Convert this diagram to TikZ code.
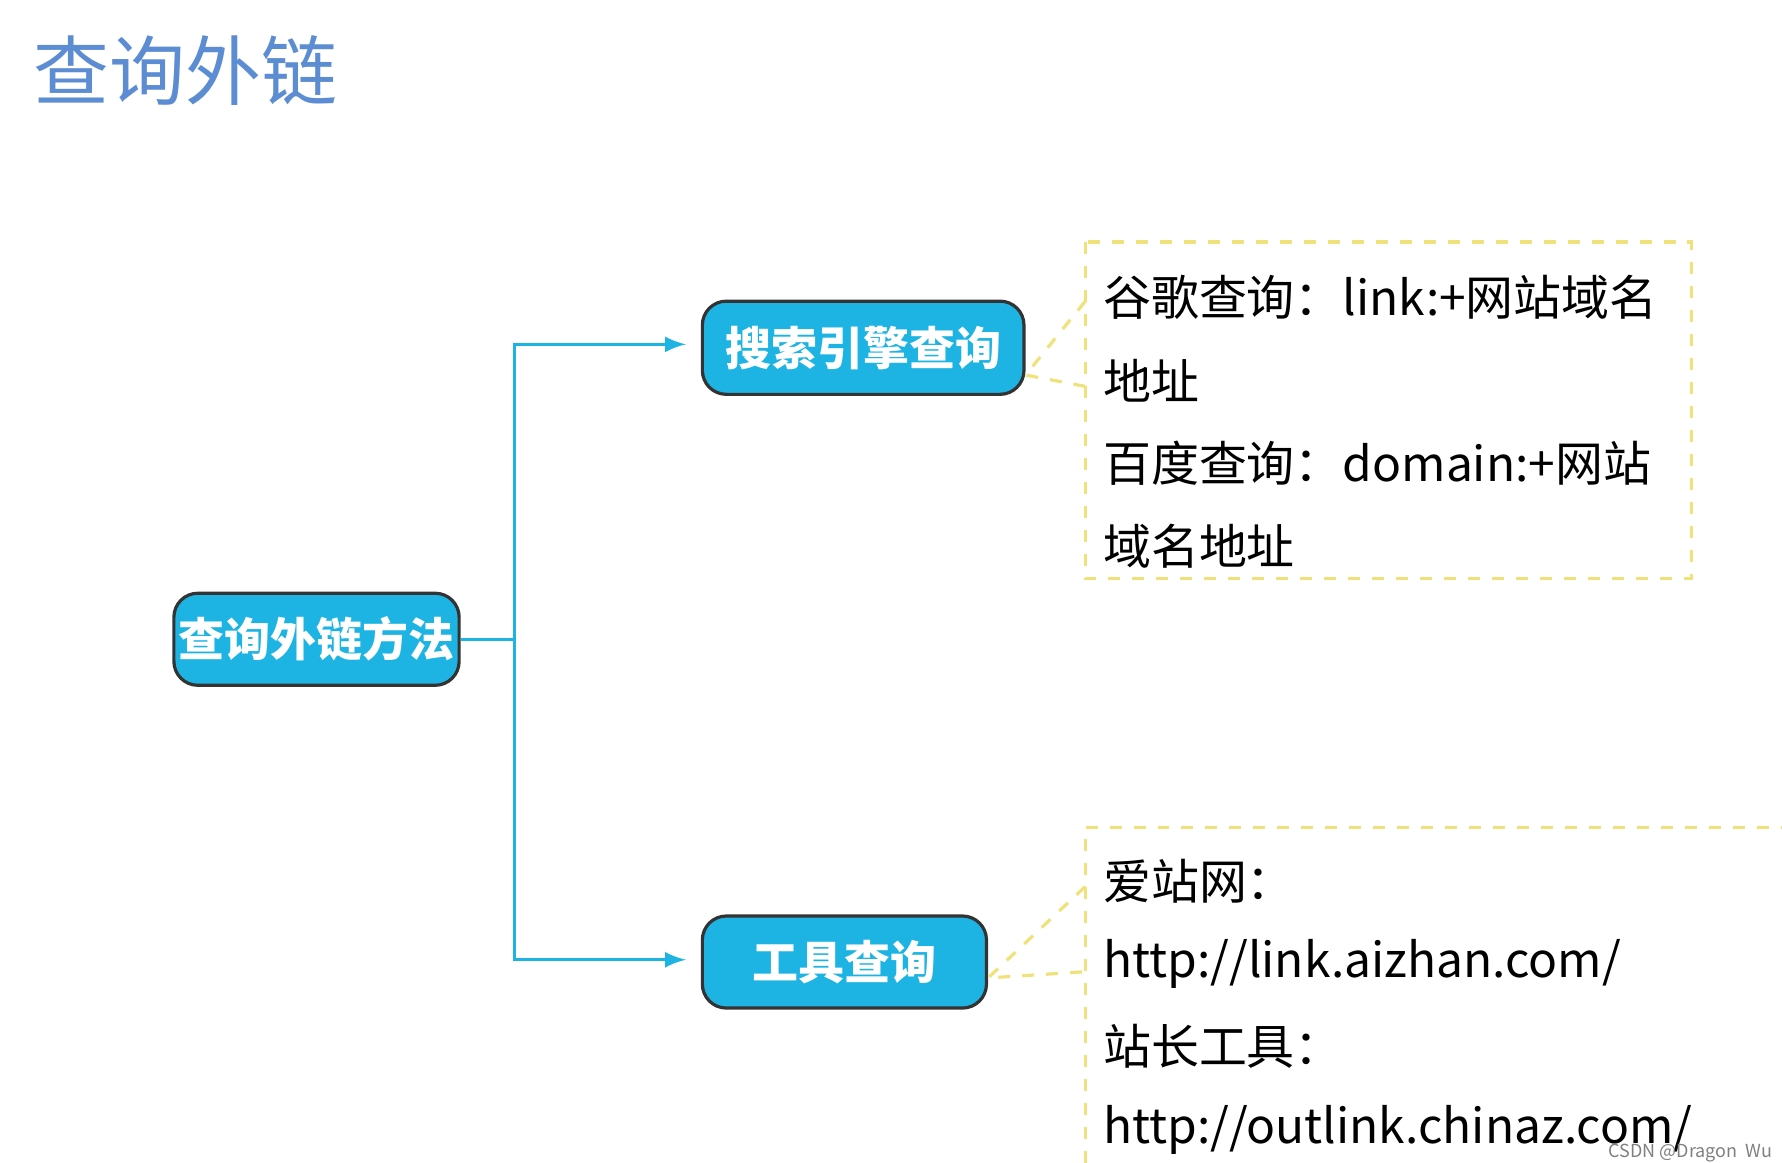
\documentclass[tikz,border=0pt]{standalone}
\usepackage{fontspec}
\setmainfont{Noto Sans CJK SC}
\usetikzlibrary{positioning}
\definecolor{boxblue}{HTML}{1DB4E3}
\definecolor{titleblue}{HTML}{5C8DD3}
\definecolor{dashyel}{HTML}{EFE27A}
\begin{document}
\begin{tikzpicture}
  [every node/.style={inner sep=0pt},
   methodbox/.style={draw=black!80,thick,fill=boxblue,rounded corners=6pt,
     text=white,font=\fontsize{11.5}{14}\selectfont\bfseries},
   branch/.style={boxblue,thick,-latex},
   noteline/.style={dashyel,thick,dashed},
   notetext/.style={anchor=west,font=\fontsize{12}{15}\selectfont}]
  \useasboundingbox (0,0) rectangle (15.68,-10.23);
  \node[titleblue,font=\fontsize{19}{22}\selectfont] (title) at (1.63,-0.62) {查询外链};
  % boxes
  \node[methodbox,minimum width=2.51cm,minimum height=0.81cm] (root) at (2.785,-5.625) {查询外链方法};
  \node[methodbox,minimum width=2.83cm,minimum height=0.82cm] (search) at (7.595,-3.06) {搜索引擎查询};
  \node[methodbox,minimum width=2.50cm,minimum height=0.81cm] (tool) at (7.43,-8.465) {工具查询};
  \coordinate (split) at (4.53,-5.625);
  \draw[boxblue,thick] (root.east) -- (split);
  \draw[branch] (split) |- ([xshift=-0.13cm,yshift=0.03cm]search.west);
  \draw[branch] (split) |- ([xshift=-0.13cm,yshift=0.02cm]tool.west);
  % notes
  \draw[noteline] (9.55,-2.13) rectangle (14.88,-5.09);
  \draw[noteline] (9.55,-10.23) -- (9.55,-7.28) -- (15.68,-7.28);
  \coordinate (n1) at (9.55,-2.65);
  \coordinate (n2) at (9.55,-3.40);
  \coordinate (n3) at (9.55,-7.80);
  \coordinate (n4) at (9.55,-8.55);
  \draw[noteline] (n1) -- ([yshift=-0.24cm]search.east) -- (n2);
  \draw[noteline] (n3) -- ([yshift=-0.14cm]tool.east) -- (n4);
  \node[notetext] (g1) at (9.70,-2.62) {谷歌查询：link:+网站域名};
  \node[notetext] (g2) at (9.70,-3.35) {地址};
  \node[notetext] (b1) at (9.70,-4.08) {百度查询：domain:+网站};
  \node[notetext] (b2) at (9.70,-4.81) {域名地址};
  \node[notetext] (a1) at (9.70,-7.75) {爱站网：};
  \node[notetext] (a2) at (9.70,-8.48) {http://link.aizhan.com/};
  \node[notetext] (c1) at (9.70,-9.21) {站长工具：};
  \node[notetext] (c2) at (9.70,-9.94) {http://outlink.chinaz.com/};
  \node[black!50,font=\fontsize{4.5}{5}\selectfont,anchor=east] (mark) at (15.6,-10.15) {CSDN @Dragon\ \ Wu};
\end{tikzpicture}
\end{document}
